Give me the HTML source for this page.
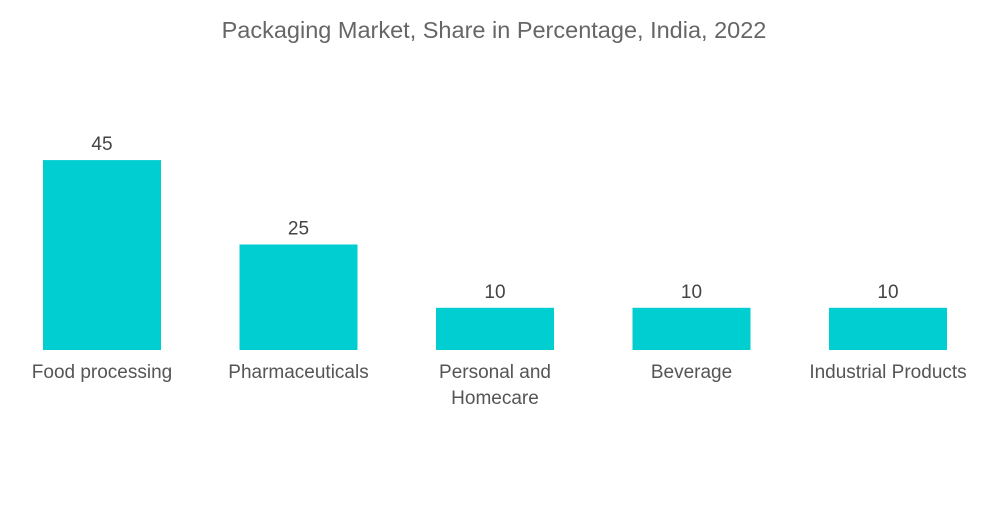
<!DOCTYPE html>
<html><head><meta charset="utf-8"><style>
body{margin:0;background:#fff;width:1000px;height:504px;overflow:hidden;font-family:"Liberation Sans",sans-serif}
</style></head><body>
<svg id="chart" width="1000" height="504" xmlns="http://www.w3.org/2000/svg">
<text x="494" y="38" text-anchor="middle" font-size="23.5" fill="#666" font-family="Liberation Sans, sans-serif">Packaging Market, Share in Percentage, India, 2022</text>
<g id="bars"></g>
</svg>
<script>
const categories = [["Food processing"],["Pharmaceuticals"],["Personal and","Homecare"],["Beverage"],["Industrial Products"]];
const values = [45,25,10,10,10];
const valueLabels = ["45","25","10","10","10"];
const baseY=350, pxPerUnit=4.22, x0=43, step=196.5, bw=118;
const yScale=v=>baseY-v*pxPerUnit;
const xScale=i=>x0+i*step;
const g=document.getElementById('bars');
const ns="http://www.w3.org/2000/svg";
values.forEach((v,i)=>{
  const r=document.createElementNS(ns,'rect');
  
  
  r.setAttribute('x',xScale(i));r.setAttribute('y',yScale(v));
  r.setAttribute('width',bw);r.setAttribute('height',baseY-yScale(v));
  r.setAttribute('fill','#00ced1');
  g.appendChild(r);
  const t=document.createElementNS(ns,'text');
  
  
  t.setAttribute('x',xScale(i)+bw/2);t.setAttribute('y',yScale(v)-10);
  t.setAttribute('text-anchor','middle');t.setAttribute('font-size','19');t.setAttribute('fill','#444');
  t.textContent=valueLabels[i];
  g.appendChild(t);
  categories[i].forEach((line,k)=>{
    const c=document.createElementNS(ns,'text');
    
    
    c.setAttribute('x',xScale(i)+bw/2);c.setAttribute('y',378+k*26);
    c.setAttribute('text-anchor','middle');c.setAttribute('font-size','19');c.setAttribute('fill','#555');
    c.textContent=line;
    g.appendChild(c);
  });
});
</script>
</body></html>
